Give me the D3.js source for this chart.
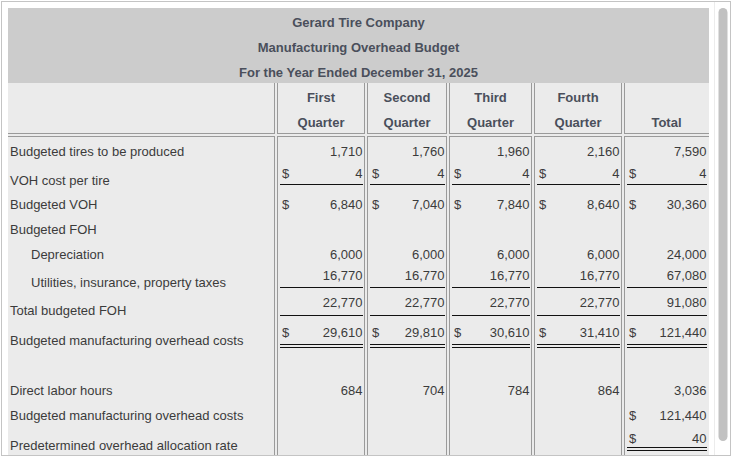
<!DOCTYPE html>
<html>
<head>
<meta charset="utf-8">
<script src="https://cdn.jsdelivr.net/npm/d3@7/dist/d3.min.js"></script>
<style>
  html, body { margin: 0; padding: 0; background: #ffffff; }
  svg { display: block; }
  text { font-family: "Liberation Sans", Arial, Helvetica, sans-serif; font-size: 13px; }
</style>
</head>
<body>
<svg id="chart" width="732" height="457"></svg>
<script>
// ---------------- DATA ----------------
const titleLines = ["Gerard Tire Company", "Manufacturing Overhead Budget", "For the Year Ended December 31, 2025"];
const columns = ["First", "Second", "Third", "Fourth", "Total"];
const headerTop = ["First", "Second", "Third", "Fourth", ""];
const headerBottom = ["Quarter", "Quarter", "Quarter", "Quarter", "Total"];
const rowLabels = [
  "Budgeted tires to be produced",
  "VOH cost per tire",
  "Budgeted VOH",
  "Budgeted FOH",
  "Depreciation",
  "Utilities, insurance, property taxes",
  "Total budgeted FOH",
  "Budgeted manufacturing overhead costs",
  "Direct labor hours",
  "Budgeted manufacturing overhead costs",
  "Predetermined overhead allocation rate"
];
const tiresProduced   = [1710, 1760, 1960, 2160, 7590];
const vohCostPerTire  = [4, 4, 4, 4, 4];
const budgetedVOH     = [6840, 7040, 7840, 8640, 30360];
const depreciation    = [6000, 6000, 6000, 6000, 24000];
const utilitiesEtc    = [16770, 16770, 16770, 16770, 67080];
const totalFOH        = [22770, 22770, 22770, 22770, 91080];
const totalMOH        = [29610, 29810, 30610, 31410, 121440];
const directLaborHrs  = [684, 704, 784, 864, 3036];
const budgetedMOHTotal = [null, null, null, null, 121440];
const allocationRate   = [null, null, null, null, 40];

// ---------------- LAYOUT ----------------
const rows = [
  { values: tiresProduced,   dollar: false, indent: false, rule: 0 },
  { values: vohCostPerTire,  dollar: true,  indent: false, rule: 1, raised: true },
  { values: budgetedVOH,     dollar: true,  indent: false, rule: 0 },
  { values: null,            dollar: false, indent: false, rule: 0 },
  { values: depreciation,    dollar: false, indent: true,  rule: 0 },
  { values: utilitiesEtc,    dollar: false, indent: true,  rule: 1, raised: true },
  { values: totalFOH,        dollar: false, indent: false, rule: 1, raised: true },
  { values: totalMOH,        dollar: true,  indent: false, rule: 2, raised: true },
  { values: directLaborHrs,  dollar: false, indent: false, rule: 0 },
  { values: budgetedMOHTotal, dollar: true, indent: false, rule: 0 },
  { values: allocationRate,  dollar: true,  indent: false, rule: 2, raised: true }
];
const rowLabelY = [151, 180, 204, 229, 254, 282, 310, 340, 390, 415, 445];
const rowValueY = [151, 173, 204, 229, 254, 275, 302, 332, 390, 415, 438];
const ruleY     = [null, 184, null, null, null, 287, 315, 344, null, null, 447];

const colLeft  = [277, 367, 449, 534, 624];
const colRight = [365, 447, 532, 622, 709];
const xLeft  = d3.scaleOrdinal().domain(columns).range(colLeft);
const xRight = d3.scaleOrdinal().domain(columns).range(colRight);
const yLabel = d3.scaleOrdinal().domain(d3.range(rows.length)).range(rowLabelY);
const yValue = d3.scaleOrdinal().domain(d3.range(rows.length)).range(rowValueY);
const fmt = d3.format(",");

const svg = d3.select("#chart");
const titleColor = "#4a4f5b";
const textColor = "#3b3b3b";
const borderColor = "#9a9a9a";

// outer frame
svg.append("rect").attr("x", 1.5).attr("y", 1.5).attr("width", 729).attr("height", 454)
  .attr("fill", "#ffffff").attr("stroke", "#c4c4c4");

// scrollbar
svg.append("line").attr("x1", 714.5).attr("x2", 714.5).attr("y1", 2).attr("y2", 455).attr("stroke", "#ececec");
svg.append("rect").attr("x", 718.5).attr("y", 8).attr("width", 9).attr("height", 433).attr("rx", 4.5)
  .attr("fill", "#c1c1c1");

// backgrounds
svg.append("rect").attr("x", 8).attr("y", 8).attr("width", 701).attr("height", 75).attr("fill", "#cccccc");
svg.append("rect").attr("x", 8).attr("y", 83).attr("width", 701).attr("height", 372).attr("fill", "#ebebeb");

// title
svg.append("g").selectAll("text").data(titleLines).join("text")
  .attr("x", 358.5).attr("y", (d, i) => 22 + i * 25).attr("dy", "0.35em")
  .attr("text-anchor", "middle").attr("font-weight", "bold").attr("fill", titleColor)
  .text(d => d);

// cell borders
const borders = svg.append("g").attr("stroke", borderColor).attr("stroke-width", 1).attr("shape-rendering", "crispEdges");
// label column right edge and header/body separators
borders.append("line").attr("x1", 274.5).attr("x2", 274.5).attr("y1", 83).attr("y2", 134);
borders.append("line").attr("x1", 274.5).attr("x2", 274.5).attr("y1", 136).attr("y2", 455);
borders.append("line").attr("x1", 8).attr("x2", 275).attr("y1", 133.5).attr("y2", 133.5);
borders.append("line").attr("x1", 8).attr("x2", 275).attr("y1", 136.5).attr("y2", 136.5);
columns.forEach((c, i) => {
  const l = xLeft(c) + 0.5, r = xRight(c) - 0.5;
  const isLast = i === columns.length - 1;
  // header cell
  borders.append("line").attr("x1", l).attr("x2", l).attr("y1", 83).attr("y2", 134);
  if (!isLast) borders.append("line").attr("x1", r).attr("x2", r).attr("y1", 83).attr("y2", 134);
  borders.append("line").attr("x1", l).attr("x2", isLast ? 709 : r + 0.5).attr("y1", 133.5).attr("y2", 133.5);
  // body cell
  borders.append("line").attr("x1", l).attr("x2", isLast ? 709 : r + 0.5).attr("y1", 136.5).attr("y2", 136.5);
  borders.append("line").attr("x1", l).attr("x2", l).attr("y1", 136).attr("y2", 455);
  if (!isLast) borders.append("line").attr("x1", r).attr("x2", r).attr("y1", 136).attr("y2", 455);
});

// headers
const headG = svg.append("g").attr("font-weight", "bold").attr("fill", titleColor).attr("text-anchor", "middle");
columns.forEach((c, i) => {
  const cx = (xLeft(c) + xRight(c)) / 2;
  headG.append("text").attr("x", cx).attr("y", 97).attr("dy", "0.35em").text(headerTop[i]);
  headG.append("text").attr("x", cx).attr("y", 122).attr("dy", "0.35em").text(headerBottom[i]);
});

// row labels
svg.append("g").selectAll("text").data(rowLabels).join("text")
  .attr("x", (d, i) => rows[i].indent ? 31 : 10)
  .attr("y", (d, i) => yLabel(i)).attr("dy", "0.35em")
  .attr("fill", textColor).text(d => d);

// values
const valG = svg.append("g").attr("fill", textColor);
rows.forEach((row, ri) => {
  if (!row.values) return;
  const cells = columns.map((c, ci) => ({ c, v: row.values[ci] })).filter(d => d.v !== null);
  const g = valG.append("g");
  g.selectAll("text.v").data(cells).join("text").attr("class", "v")
    .attr("x", d => xRight(d.c) - 2.5).attr("y", yValue(ri)).attr("dy", "0.35em")
    .attr("text-anchor", "end").text(d => fmt(d.v));
  if (row.dollar) {
    g.selectAll("text.d").data(cells).join("text").attr("class", "d")
      .attr("x", d => xLeft(d.c) + 5).attr("y", yValue(ri)).attr("dy", "0.35em").text("$");
  }
  if (row.rule > 0) {
    const ry = ruleY[ri];
    for (let k = 0; k < row.rule; k++) {
      g.selectAll("line.r" + k).data(cells).join("line").attr("class", "r" + k)
        .attr("x1", d => xLeft(d.c) + 3).attr("x2", d => xRight(d.c) - 2)
        .attr("y1", ry + 0.5 + k * 3).attr("y2", ry + 0.5 + k * 3)
        .attr("stroke", "#111").attr("stroke-width", 1).attr("shape-rendering", "crispEdges");
    }
  }
});
</script>
</body>
</html>
